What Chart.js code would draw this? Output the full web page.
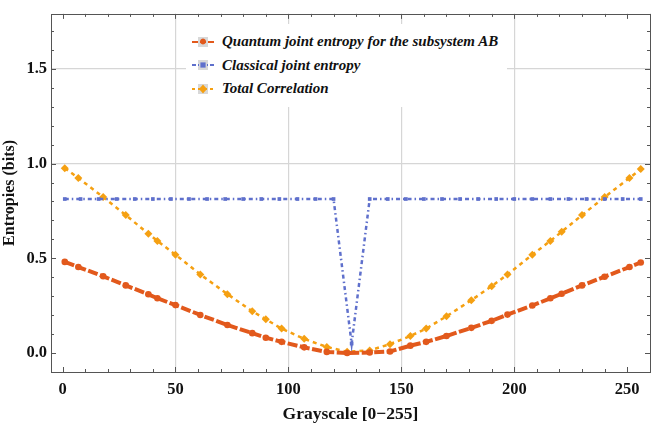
<!DOCTYPE html>
<html>
<head>
<meta charset="utf-8">
<script src="https://cdn.jsdelivr.net/npm/chart.js@4.4.1/dist/chart.umd.min.js"></script>
<style>
  body { margin: 0; background: #fff; }
  #wrap { position: relative; width: 654px; height: 423px; overflow: hidden; }
  #legend {
    position: absolute; left: 186px; top: 24px;
    background: #fff; padding: 6px 9px 6px 6px;
    font: italic bold 15px "Liberation Serif", serif; color: #111;
  }
  #legend .row { height: 23.5px; display: flex; align-items: center; white-space: nowrap; }
  #legend svg { margin-right: 8px; }
</style>
</head>
<body>
<div id="wrap">
  <canvas id="grafico" width="654" height="423"></canvas>
  <div id="legend"></div>
</div>
<script>
// grayscale levels sampled for quantum / total correlation
const gray = [1, 7, 18, 28, 38, 42, 50, 61, 73, 84, 90, 97, 107, 117, 126, 136, 145, 154, 161, 170, 181, 190, 197, 208, 216, 221, 230, 240, 251, 256];
const quantum = [0.481, 0.454, 0.405, 0.357, 0.310, 0.289, 0.253, 0.201, 0.148, 0.105, 0.081, 0.059, 0.030, 0.006, 0.000, 0.003, 0.008, 0.039, 0.059, 0.090, 0.133, 0.170, 0.203, 0.251, 0.289, 0.313, 0.357, 0.403, 0.454, 0.478];
const total = [0.976, 0.924, 0.823, 0.728, 0.630, 0.592, 0.519, 0.415, 0.311, 0.221, 0.178, 0.129, 0.075, 0.032, 0.007, 0.014, 0.047, 0.090, 0.129, 0.194, 0.279, 0.353, 0.415, 0.519, 0.592, 0.640, 0.728, 0.823, 0.924, 0.971];

// classical series has its own sampling
const grayClassical = [1, 8, 16, 24, 32, 40, 48, 56, 64, 72, 80, 88, 96, 104, 112, 120, 128, 136, 144, 152, 160, 168, 176, 184, 192, 200, 208, 216, 224, 232, 240, 248, 256];
const classical = [0.813, 0.813, 0.813, 0.813, 0.813, 0.813, 0.813, 0.813, 0.813, 0.813, 0.813, 0.813, 0.813, 0.813, 0.813, 0.813, 0.05, 0.813, 0.813, 0.813, 0.813, 0.813, 0.813, 0.813, 0.813, 0.813, 0.813, 0.813, 0.813, 0.813, 0.813, 0.813, 0.813];

const nomes = ["Quantum joint entropy for the subsystem AB", "Classical joint entropy", "Total Correlation"];
const cores = ["#E2591C", "#5F70CC", "#F5A012"];

const xTicks = [0, 50, 100, 150, 200, 250];
const yTicks = [0, 0.5, 1.0, 1.5];
const xGrid = [50, 100, 150, 200];
const yGrid = [1.0, 1.5];

const fonte = { family: "Liberation Serif", weight: "bold", size: 16.5 };

const pontos = (xs, ys) => xs.map((x, i) => ({ x, y: ys[i] }));

// frame with inward ticks on all four sides (Mathematica style)
const moldura = {
  id: "moldura",
  afterDraw(chart) {
    const { ctx, chartArea: a, scales: { x, y } } = chart;
    ctx.save();
    ctx.strokeStyle = "#555";
    ctx.lineWidth = 1;
    ctx.beginPath();
    for (let v = 0; v <= 260; v += 10) {
      const px = Math.round(x.getPixelForValue(v)) + 0.5;
      const len = v % 50 === 0 ? 5 : 3;
      ctx.moveTo(px, a.bottom); ctx.lineTo(px, a.bottom - len);
      ctx.moveTo(px, a.top); ctx.lineTo(px, a.top + len);
    }
    for (let i = -1; i <= 17; i++) {
      const v = i / 10;
      const py = Math.round(y.getPixelForValue(v)) + 0.5;
      const len = i % 5 === 0 ? 5 : 3;
      ctx.moveTo(a.left, py); ctx.lineTo(a.left + len, py);
      ctx.moveTo(a.right, py); ctx.lineTo(a.right - len, py);
    }
    ctx.stroke();
    ctx.strokeRect(Math.round(a.left) + 0.5, Math.round(a.top) + 0.5,
      Math.round(a.right - a.left), Math.round(a.bottom - a.top));
    ctx.restore();
  }
};

const chart = new Chart(document.getElementById("grafico"), {
  type: "line",
  data: {
    datasets: [
      {
        label: nomes[0], data: pontos(gray, quantum),
        borderColor: cores[0], backgroundColor: cores[0],
        borderWidth: 4, borderDash: [10, 2.5],
        pointStyle: "circle", pointRadius: 3.3, pointBorderWidth: 0
      },
      {
        label: nomes[1], data: pontos(grayClassical, classical),
        borderColor: cores[1], backgroundColor: cores[1],
        borderWidth: 2.5, borderDash: [4, 3, 1.5, 3],
        pointStyle: "rect", pointRadius: 2.6, pointBorderWidth: 0
      },
      {
        label: nomes[2], data: pontos(gray, total),
        borderColor: cores[2], backgroundColor: cores[2],
        borderWidth: 2.5, borderDash: [4, 4],
        pointStyle: "rectRot", pointRadius: 4, pointBorderWidth: 0
      }
    ]
  },
  options: {
    responsive: false,
    animation: false,
    layout: { padding: { top: 1, right: 4, left: 0, bottom: 0 } },
    plugins: { legend: { display: false }, tooltip: { enabled: false } },
    elements: { line: { tension: 0 } },
    scales: {
      x: {
        type: "linear", min: -5.1, max: 260.1,
        afterBuildTicks: s => { s.ticks = xTicks.map(v => ({ value: v })); },
        afterFit: s => { s.height = 51; },
        ticks: { font: fonte, color: "#111", padding: 8, maxRotation: 0 },
        grid: {
          drawTicks: false, lineWidth: 1.2,
          color: c => xGrid.includes(c.tick?.value) ? "#d6d6d6" : "rgba(0,0,0,0)"
        },
        border: { display: false },
        title: { display: true, text: "Grayscale [0\u2212255]", font: { ...fonte, size: 17.5, lineHeight: 1 }, color: "#111", padding: { top: 0, bottom: 0 } }
      },
      y: {
        type: "linear", min: -0.1, max: 1.79,
        afterBuildTicks: s => { s.ticks = yTicks.map(v => ({ value: v })); },
        afterFit: s => { s.width = 51; },
        ticks: { font: fonte, color: "#111", padding: 4, callback: v => v.toFixed(1) },
        grid: {
          drawTicks: false, lineWidth: 1.2,
          color: c => yGrid.includes(c.tick?.value) ? "#d6d6d6" : "rgba(0,0,0,0)"
        },
        border: { display: false },
        title: { display: true, text: "Entropies (bits)", font: { ...fonte, size: 16, lineHeight: 1.1 }, color: "#111", padding: { top: 1, bottom: 0 } }
      }
    }
  },
  plugins: [moldura]
});

// legend drawn as html over the plot
const icones = [
  '<path d="M11 2.5 a3 3 0 1 0 0.01 0z"/>',
  '<rect x="8.4" y="3.4" width="5.2" height="5.2"/>',
  '<path d="M11 1.5 L15 6 L11 10.5 L7 6z"/>'
];
const dashes = ["6,2", "4,2,1,2", "3,3"];
document.getElementById("legend").innerHTML = nomes.map((n, i) => `
  <div class="row">
    <svg width="22" height="12" viewBox="0 0 22 12">
      <rect x="6" y="1" width="10" height="10" fill="#d8d8d8"/>
      <line x1="0" y1="6" x2="22" y2="6" stroke="${cores[i]}" stroke-width="2" stroke-dasharray="${dashes[i]}"/>
      <g fill="${cores[i]}">${icones[i]}</g>
    </svg>${n}
  </div>`).join("");
</script>
</body>
</html>
